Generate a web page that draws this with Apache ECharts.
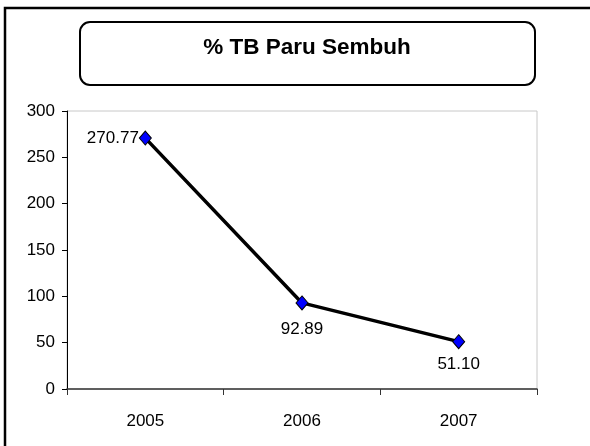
<!DOCTYPE html>
<html>
<head>
<meta charset="utf-8">
<script src="https://cdn.jsdelivr.net/npm/echarts@6/dist/echarts.min.js"></script>
<style>
  html, body { margin: 0; padding: 0; background: #fff; }
  #main { width: 590px; height: 446px; }
</style>
</head>
<body>
<div id="main"></div>
<script>
var titleText = '% TB Paru Sembuh';
var years = ['2005', '2006', '2007'];
var sembuh = [270.77, 92.89, 51.10];
var labelPos = ['left', 'bottom', 'bottom'];
var labelGap = [0, 10, 7];

var font = '"Liberation Sans", Arial, sans-serif';

var myChart = echarts.init(document.getElementById('main'));

myChart.setOption({
    animation: false,
    backgroundColor: '#fff',
    title: {
        text: titleText,
        left: 307,
        top: 36,
        textAlign: 'center',
        padding: 0,
        textStyle: {
            fontFamily: font,
            fontWeight: 'bold',
            fontSize: 22.5,
            color: '#000'
        }
    },
    graphic: [
        {
            type: 'rect',
            shape: { x: 80, y: 22, width: 455, height: 63, r: 10 },
            style: { fill: 'none', stroke: '#000', lineWidth: 2 },
            z: -1
        },
        {
            type: 'polyline',
            shape: { points: [[5, 446], [5, 8], [590, 8]] },
            style: { fill: 'none', stroke: '#000', lineWidth: 2.5 }
        }
    ],
    grid: {
        left: 67,
        right: 53,
        top: 111,
        bottom: 57,
        show: true,
        borderColor: '#c8c8c8',
        borderWidth: 1
    },
    xAxis: {
        type: 'category',
        data: years,
        boundaryGap: true,
        axisLine: { lineStyle: { color: '#333', width: 1.5 } },
        axisTick: { show: true, length: 6, inside: false, lineStyle: { color: '#333' } },
        axisLabel: { margin: 24, fontFamily: font, fontSize: 17, color: '#000' },
        splitLine: { show: false }
    },
    yAxis: {
        type: 'value',
        min: 0,
        max: 300,
        interval: 50,
        axisLine: { show: true, lineStyle: { color: '#000', width: 1 } },
        axisTick: { show: true, length: 5, lineStyle: { color: '#000' } },
        axisLabel: { margin: 12, fontFamily: font, fontSize: 17, color: '#000' },
        splitLine: { show: false }
    },
    series: [{
        name: titleText,
        type: 'line',
        data: sembuh.map(function (v, i) {
            return { value: v, label: { position: labelPos[i], distance: labelGap[i] } };
        }),
        symbol: 'diamond',
        symbolSize: [12, 14],
        itemStyle: { color: '#0000ff', borderColor: '#000', borderWidth: 1 },
        lineStyle: { color: '#000', width: 3.5 },
        label: {
            show: true,
            fontFamily: font,
            fontSize: 17,
            color: '#000',
            formatter: function (p) { return p.value.toFixed(2); }
        }
    }]
});
</script>
</body>
</html>
